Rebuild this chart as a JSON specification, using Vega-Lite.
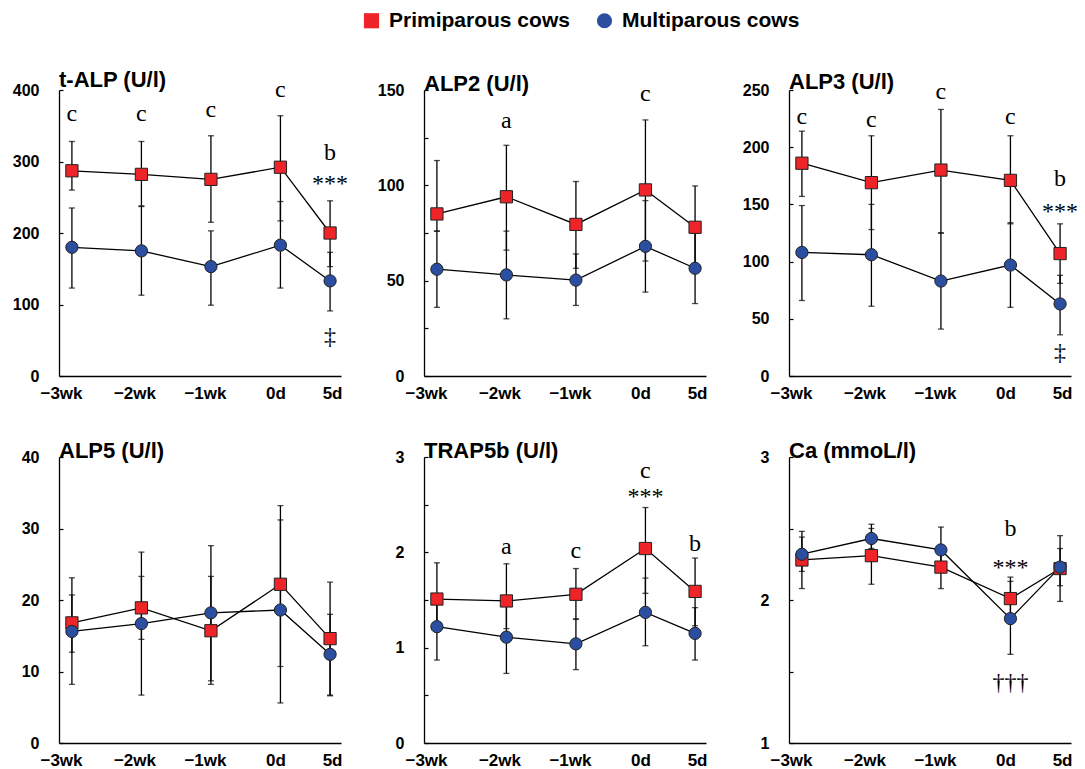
{
  "$schema": "https://vega.github.io/schema/vega-lite/v6.json",
  "background": "white",
  "padding": {"left": 12, "top": 10, "right": 5, "bottom": 5},
  "datasets": {
    "pts": [
      {"panel": "t-ALP", "group": "Primiparous cows", "day": -21, "mean": 287, "lo": 260, "hi": 328},
      {"panel": "t-ALP", "group": "Primiparous cows", "day": -14, "mean": 282, "lo": 238, "hi": 328},
      {"panel": "t-ALP", "group": "Primiparous cows", "day": -7, "mean": 275, "lo": 215, "hi": 336},
      {"panel": "t-ALP", "group": "Primiparous cows", "day": 0, "mean": 292, "lo": 217, "hi": 364},
      {"panel": "t-ALP", "group": "Primiparous cows", "day": 5, "mean": 200, "lo": 153, "hi": 245},
      {"panel": "t-ALP", "group": "Multiparous cows", "day": -21, "mean": 180, "lo": 123, "hi": 235},
      {"panel": "t-ALP", "group": "Multiparous cows", "day": -14, "mean": 175, "lo": 113, "hi": 237},
      {"panel": "t-ALP", "group": "Multiparous cows", "day": -7, "mean": 153, "lo": 99, "hi": 203},
      {"panel": "t-ALP", "group": "Multiparous cows", "day": 0, "mean": 183, "lo": 123, "hi": 244},
      {"panel": "t-ALP", "group": "Multiparous cows", "day": 5, "mean": 133, "lo": 91, "hi": 173},

      {"panel": "ALP2", "group": "Primiparous cows", "day": -21, "mean": 85, "lo": 76, "hi": 113},
      {"panel": "ALP2", "group": "Primiparous cows", "day": -14, "mean": 94, "lo": 66, "hi": 121},
      {"panel": "ALP2", "group": "Primiparous cows", "day": -7, "mean": 79.5, "lo": 56.5, "hi": 102},
      {"panel": "ALP2", "group": "Primiparous cows", "day": 0, "mean": 97.6, "lo": 60.3, "hi": 134.3},
      {"panel": "ALP2", "group": "Primiparous cows", "day": 5, "mean": 78, "lo": 58, "hi": 99.7},
      {"panel": "ALP2", "group": "Multiparous cows", "day": -21, "mean": 56, "lo": 36, "hi": 76},
      {"panel": "ALP2", "group": "Multiparous cows", "day": -14, "mean": 53, "lo": 30, "hi": 76},
      {"panel": "ALP2", "group": "Multiparous cows", "day": -7, "mean": 50.3, "lo": 37, "hi": 64},
      {"panel": "ALP2", "group": "Multiparous cows", "day": 0, "mean": 68, "lo": 44, "hi": 92},
      {"panel": "ALP2", "group": "Multiparous cows", "day": 5, "mean": 56.5, "lo": 38, "hi": 75},

      {"panel": "ALP3", "group": "Primiparous cows", "day": -21, "mean": 186, "lo": 157, "hi": 214},
      {"panel": "ALP3", "group": "Primiparous cows", "day": -14, "mean": 169, "lo": 128, "hi": 210},
      {"panel": "ALP3", "group": "Primiparous cows", "day": -7, "mean": 180, "lo": 125, "hi": 233},
      {"panel": "ALP3", "group": "Primiparous cows", "day": 0, "mean": 171, "lo": 133, "hi": 210},
      {"panel": "ALP3", "group": "Primiparous cows", "day": 5, "mean": 107, "lo": 81, "hi": 133},
      {"panel": "ALP3", "group": "Multiparous cows", "day": -21, "mean": 108, "lo": 66, "hi": 149},
      {"panel": "ALP3", "group": "Multiparous cows", "day": -14, "mean": 106, "lo": 61, "hi": 150},
      {"panel": "ALP3", "group": "Multiparous cows", "day": -7, "mean": 83, "lo": 41, "hi": 125},
      {"panel": "ALP3", "group": "Multiparous cows", "day": 0, "mean": 97, "lo": 60, "hi": 134},
      {"panel": "ALP3", "group": "Multiparous cows", "day": 5, "mean": 63, "lo": 36, "hi": 88},

      {"panel": "ALP5", "group": "Primiparous cows", "day": -21, "mean": 16.8, "lo": 12.7, "hi": 20.7},
      {"panel": "ALP5", "group": "Primiparous cows", "day": -14, "mean": 18.9, "lo": 14.5, "hi": 23.3},
      {"panel": "ALP5", "group": "Primiparous cows", "day": -7, "mean": 15.7, "lo": 8.2, "hi": 23.3},
      {"panel": "ALP5", "group": "Primiparous cows", "day": 0, "mean": 22.2, "lo": 10.7, "hi": 33.2},
      {"panel": "ALP5", "group": "Primiparous cows", "day": 5, "mean": 14.6, "lo": 6.7, "hi": 18.0},
      {"panel": "ALP5", "group": "Multiparous cows", "day": -21, "mean": 15.6, "lo": 8.2, "hi": 23.1},
      {"panel": "ALP5", "group": "Multiparous cows", "day": -14, "mean": 16.7, "lo": 6.7, "hi": 26.7},
      {"panel": "ALP5", "group": "Multiparous cows", "day": -7, "mean": 18.2, "lo": 8.7, "hi": 27.6},
      {"panel": "ALP5", "group": "Multiparous cows", "day": 0, "mean": 18.6, "lo": 5.6, "hi": 31.2},
      {"panel": "ALP5", "group": "Multiparous cows", "day": 5, "mean": 12.4, "lo": 6.6, "hi": 22.5},

      {"panel": "TRAP5b", "group": "Primiparous cows", "day": -21, "mean": 1.51, "lo": 1.25, "hi": 1.89},
      {"panel": "TRAP5b", "group": "Primiparous cows", "day": -14, "mean": 1.49, "lo": 1.2, "hi": 1.88},
      {"panel": "TRAP5b", "group": "Primiparous cows", "day": -7, "mean": 1.56, "lo": 1.3, "hi": 1.83},
      {"panel": "TRAP5b", "group": "Primiparous cows", "day": 0, "mean": 2.04, "lo": 1.57, "hi": 2.47},
      {"panel": "TRAP5b", "group": "Primiparous cows", "day": 5, "mean": 1.59, "lo": 1.23, "hi": 1.94},
      {"panel": "TRAP5b", "group": "Multiparous cows", "day": -21, "mean": 1.22, "lo": 0.87, "hi": 1.5},
      {"panel": "TRAP5b", "group": "Multiparous cows", "day": -14, "mean": 1.11, "lo": 0.73, "hi": 1.45},
      {"panel": "TRAP5b", "group": "Multiparous cows", "day": -7, "mean": 1.04, "lo": 0.77, "hi": 1.3},
      {"panel": "TRAP5b", "group": "Multiparous cows", "day": 0, "mean": 1.37, "lo": 1.02, "hi": 1.73},
      {"panel": "TRAP5b", "group": "Multiparous cows", "day": 5, "mean": 1.15, "lo": 0.87, "hi": 1.42},

      {"panel": "Ca", "group": "Primiparous cows", "day": -21, "mean": 2.28, "lo": 2.08, "hi": 2.48},
      {"panel": "Ca", "group": "Primiparous cows", "day": -14, "mean": 2.31, "lo": 2.11, "hi": 2.5},
      {"panel": "Ca", "group": "Primiparous cows", "day": -7, "mean": 2.23, "lo": 2.08, "hi": 2.37},
      {"panel": "Ca", "group": "Primiparous cows", "day": 0, "mean": 2.01, "lo": 1.88, "hi": 2.16},
      {"panel": "Ca", "group": "Primiparous cows", "day": 5, "mean": 2.22, "lo": 1.99, "hi": 2.45},
      {"panel": "Ca", "group": "Multiparous cows", "day": -21, "mean": 2.32, "lo": 2.2, "hi": 2.44},
      {"panel": "Ca", "group": "Multiparous cows", "day": -14, "mean": 2.43, "lo": 2.36, "hi": 2.53},
      {"panel": "Ca", "group": "Multiparous cows", "day": -7, "mean": 2.35, "lo": 2.22, "hi": 2.51},
      {"panel": "Ca", "group": "Multiparous cows", "day": 0, "mean": 1.87, "lo": 1.62, "hi": 2.13},
      {"panel": "Ca", "group": "Multiparous cows", "day": 5, "mean": 2.23, "lo": 2.1, "hi": 2.36}
    ],
    "ann": [
      {"panel": "t-ALP", "day": -21, "y": 367, "label": "c"},
      {"panel": "t-ALP", "day": -14, "y": 366, "label": "c"},
      {"panel": "t-ALP", "day": -7, "y": 372, "label": "c"},
      {"panel": "t-ALP", "day": 0, "y": 400, "label": "c"},
      {"panel": "t-ALP", "day": 5, "y": 312, "label": "b"},
      {"panel": "t-ALP", "day": 5, "y": 268, "label": "***"},
      {"panel": "t-ALP", "day": 5, "y": 55, "label": "‡"},
      {"panel": "ALP2", "day": -14, "y": 134, "label": "a"},
      {"panel": "ALP2", "day": 0, "y": 148, "label": "c"},
      {"panel": "ALP3", "day": -21, "y": 226, "label": "c"},
      {"panel": "ALP3", "day": -14, "y": 224, "label": "c"},
      {"panel": "ALP3", "day": -7, "y": 248, "label": "c"},
      {"panel": "ALP3", "day": 0, "y": 226, "label": "c"},
      {"panel": "ALP3", "day": 5, "y": 172, "label": "b"},
      {"panel": "ALP3", "day": 5, "y": 143.6, "label": "***"},
      {"panel": "ALP3", "day": 5, "y": 20, "label": "‡"},
      {"panel": "TRAP5b", "day": -14, "y": 2.06, "label": "a"},
      {"panel": "TRAP5b", "day": -7, "y": 2.01, "label": "c"},
      {"panel": "TRAP5b", "day": 0, "y": 2.85, "label": "c"},
      {"panel": "TRAP5b", "day": 0, "y": 2.58, "label": "***"},
      {"panel": "TRAP5b", "day": 5, "y": 2.09, "label": "b"},
      {"panel": "Ca", "day": 0, "y": 2.495, "label": "b"},
      {"panel": "Ca", "day": 0, "y": 2.225, "label": "***"},
      {"panel": "Ca", "day": 0, "y": 1.418, "label": "†††"}
    ]
  },
  "config": {
    "view": {"stroke": null},
    "axis": {
      "grid": false,
      "domainColor": "black",
      "domainWidth": 1.3,
      "tickColor": "black",
      "tickWidth": 1.2,
      "labelColor": "black",
      "labelFont": "Liberation Sans",
      "labelFontWeight": "bold",
      "labelFontSize": 16,
      "labelFlush": false,
      "labelOverlap": false
    },
    "axisX": {"labelFontSize": 17},
    "title": {
      "anchor": "start",
      "frame": "group",
      "font": "Liberation Sans",
      "fontSize": 22,
      "fontWeight": "bold",
      "color": "black",
      "offset": -14
    },
    "text": {"font": "Liberation Serif", "fontSize": 24, "color": "black", "fill": "black", "baseline": "middle", "align": "center"}
  },
  "concat": [
    {
      "width": 282, "height": 286,
      "title": "t-ALP (U/l)",
      "layer": [
        {"data": {"name": "pts"}, "transform": [{"filter": "datum.panel === 't-ALP'"}],
         "mark": {"type": "errorbar", "ticks": {"size": 6}, "color": "black", "thickness": 1.3},
         "encoding": {
           "x": {"field": "day", "type": "quantitative", "scale": {"domain": [-22.3, 6.1], "nice": false, "zero": false},
                 "axis": {"title": null, "ticks": false, "labelPadding": 9, "values": [-22.1, -14.7, -7.6, -0.5, 5.2],
                          "labelExpr": "datum.value < -20 ? '−3wk' : datum.value < -10 ? '−2wk' : datum.value < -5 ? '−1wk' : datum.value < 3 ? '0d' : '5d'"}},
           "y": {"field": "lo", "type": "quantitative", "scale": {"domain": [0, 400], "nice": false},
                 "axis": {"title": null, "tickSize": -4, "labelPadding": 24, "format": ".0f", "values": [0, 50, 100, 150, 200, 250, 300, 350, 400],
                          "labelExpr": "datum.value % 100 === 0 ? datum.label : ''"}},
           "y2": {"field": "hi"},
           "detail": {"field": "group"}
         }},
        {"data": {"name": "pts"}, "transform": [{"filter": "datum.panel === 't-ALP'"}],
         "mark": {"type": "line", "color": "black", "strokeWidth": 1.3},
         "encoding": {"x": {"field": "day", "type": "quantitative"}, "y": {"field": "mean", "type": "quantitative"}, "detail": {"field": "group"}}},
        {"data": {"name": "pts"}, "transform": [{"filter": "datum.panel === 't-ALP'"}],
         "mark": {"type": "point", "filled": true, "opacity": 1, "stroke": "#222222", "strokeWidth": 1, "size": 150},
         "encoding": {
           "x": {"field": "day", "type": "quantitative"}, "y": {"field": "mean", "type": "quantitative"},
           "color": {"field": "group", "type": "nominal", "scale": {"domain": ["Primiparous cows", "Multiparous cows"], "range": ["#EE2428", "#2B4EA0"]},
                     "legend": {"title": null, "orient": "none", "legendX": 302, "legendY": -80, "direction": "horizontal", "labelFont": "Liberation Sans", "labelFontSize": 21, "labelFontWeight": "bold", "labelColor": "black", "symbolSize": 230, "symbolStrokeColor": "#222222", "symbolStrokeWidth": 1, "symbolOpacity": 1, "columnPadding": 24, "labelOffset": 7, "labelLimit": 400}},
           "shape": {"field": "group", "type": "nominal", "scale": {"domain": ["Primiparous cows", "Multiparous cows"], "range": ["square", "circle"]},
                     "legend": {"title": null, "orient": "none", "legendX": 302, "legendY": -80, "direction": "horizontal", "labelFont": "Liberation Sans", "labelFontSize": 21, "labelFontWeight": "bold", "labelColor": "black", "symbolSize": 230, "symbolStrokeColor": "#222222", "symbolStrokeWidth": 1, "symbolOpacity": 1, "columnPadding": 24, "labelOffset": 7, "labelLimit": 400}}
         }},
        {"data": {"name": "ann"}, "transform": [{"filter": "datum.panel === 't-ALP'"}],
         "mark": {"type": "text", "color": "black"},
         "encoding": {"x": {"field": "day", "type": "quantitative"}, "y": {"field": "y", "type": "quantitative"}, "text": {"field": "label"}}}
      ]
    },
    {
      "width": 282, "height": 286,
      "title": "ALP2 (U/l)",
      "layer": [
        {"data": {"name": "pts"}, "transform": [{"filter": "datum.panel === 'ALP2'"}],
         "mark": {"type": "errorbar", "ticks": {"size": 6}, "color": "black", "thickness": 1.3},
         "encoding": {
           "x": {"field": "day", "type": "quantitative", "scale": {"domain": [-22.3, 6.1], "nice": false, "zero": false},
                 "axis": {"title": null, "ticks": false, "labelPadding": 9, "values": [-22.1, -14.7, -7.6, -0.5, 5.2],
                          "labelExpr": "datum.value < -20 ? '−3wk' : datum.value < -10 ? '−2wk' : datum.value < -5 ? '−1wk' : datum.value < 3 ? '0d' : '5d'"}},
           "y": {"field": "lo", "type": "quantitative", "scale": {"domain": [0, 150], "nice": false},
                 "axis": {"title": null, "tickSize": -4, "labelPadding": 24, "format": ".0f", "values": [0, 25, 50, 75, 100, 125, 150],
                          "labelExpr": "datum.value % 50 === 0 ? datum.label : ''"}},
           "y2": {"field": "hi"},
           "detail": {"field": "group"}
         }},
        {"data": {"name": "pts"}, "transform": [{"filter": "datum.panel === 'ALP2'"}],
         "mark": {"type": "line", "color": "black", "strokeWidth": 1.3},
         "encoding": {"x": {"field": "day", "type": "quantitative"}, "y": {"field": "mean", "type": "quantitative"}, "detail": {"field": "group"}}},
        {"data": {"name": "pts"}, "transform": [{"filter": "datum.panel === 'ALP2'"}],
         "mark": {"type": "point", "filled": true, "opacity": 1, "stroke": "#222222", "strokeWidth": 1, "size": 150},
         "encoding": {
           "x": {"field": "day", "type": "quantitative"}, "y": {"field": "mean", "type": "quantitative"},
           "color": {"field": "group", "type": "nominal", "scale": {"domain": ["Primiparous cows", "Multiparous cows"], "range": ["#EE2428", "#2B4EA0"]},
                     "legend": {"title": null, "orient": "none", "legendX": 302, "legendY": -80, "direction": "horizontal", "labelFont": "Liberation Sans", "labelFontSize": 21, "labelFontWeight": "bold", "labelColor": "black", "symbolSize": 230, "symbolStrokeColor": "#222222", "symbolStrokeWidth": 1, "symbolOpacity": 1, "columnPadding": 24, "labelOffset": 7, "labelLimit": 400}},
           "shape": {"field": "group", "type": "nominal", "scale": {"domain": ["Primiparous cows", "Multiparous cows"], "range": ["square", "circle"]},
                     "legend": {"title": null, "orient": "none", "legendX": 302, "legendY": -80, "direction": "horizontal", "labelFont": "Liberation Sans", "labelFontSize": 21, "labelFontWeight": "bold", "labelColor": "black", "symbolSize": 230, "symbolStrokeColor": "#222222", "symbolStrokeWidth": 1, "symbolOpacity": 1, "columnPadding": 24, "labelOffset": 7, "labelLimit": 400}}
         }},
        {"data": {"name": "ann"}, "transform": [{"filter": "datum.panel === 'ALP2'"}],
         "mark": {"type": "text", "color": "black"},
         "encoding": {"x": {"field": "day", "type": "quantitative"}, "y": {"field": "y", "type": "quantitative"}, "text": {"field": "label"}}}
      ]
    },
    {
      "width": 282, "height": 286,
      "title": "ALP3 (U/l)",
      "layer": [
        {"data": {"name": "pts"}, "transform": [{"filter": "datum.panel === 'ALP3'"}],
         "mark": {"type": "errorbar", "ticks": {"size": 6}, "color": "black", "thickness": 1.3},
         "encoding": {
           "x": {"field": "day", "type": "quantitative", "scale": {"domain": [-22.3, 6.1], "nice": false, "zero": false},
                 "axis": {"title": null, "ticks": false, "labelPadding": 9, "values": [-22.1, -14.7, -7.6, -0.5, 5.2],
                          "labelExpr": "datum.value < -20 ? '−3wk' : datum.value < -10 ? '−2wk' : datum.value < -5 ? '−1wk' : datum.value < 3 ? '0d' : '5d'"}},
           "y": {"field": "lo", "type": "quantitative", "scale": {"domain": [0, 250], "nice": false},
                 "axis": {"title": null, "tickSize": -4, "labelPadding": 24, "format": ".0f", "values": [0, 25, 50, 75, 100, 125, 150, 175, 200, 225, 250],
                          "labelExpr": "datum.value % 50 === 0 ? datum.label : ''"}},
           "y2": {"field": "hi"},
           "detail": {"field": "group"}
         }},
        {"data": {"name": "pts"}, "transform": [{"filter": "datum.panel === 'ALP3'"}],
         "mark": {"type": "line", "color": "black", "strokeWidth": 1.3},
         "encoding": {"x": {"field": "day", "type": "quantitative"}, "y": {"field": "mean", "type": "quantitative"}, "detail": {"field": "group"}}},
        {"data": {"name": "pts"}, "transform": [{"filter": "datum.panel === 'ALP3'"}],
         "mark": {"type": "point", "filled": true, "opacity": 1, "stroke": "#222222", "strokeWidth": 1, "size": 150},
         "encoding": {
           "x": {"field": "day", "type": "quantitative"}, "y": {"field": "mean", "type": "quantitative"},
           "color": {"field": "group", "type": "nominal", "scale": {"domain": ["Primiparous cows", "Multiparous cows"], "range": ["#EE2428", "#2B4EA0"]},
                     "legend": {"title": null, "orient": "none", "legendX": 302, "legendY": -80, "direction": "horizontal", "labelFont": "Liberation Sans", "labelFontSize": 21, "labelFontWeight": "bold", "labelColor": "black", "symbolSize": 230, "symbolStrokeColor": "#222222", "symbolStrokeWidth": 1, "symbolOpacity": 1, "columnPadding": 24, "labelOffset": 7, "labelLimit": 400}},
           "shape": {"field": "group", "type": "nominal", "scale": {"domain": ["Primiparous cows", "Multiparous cows"], "range": ["square", "circle"]},
                     "legend": {"title": null, "orient": "none", "legendX": 302, "legendY": -80, "direction": "horizontal", "labelFont": "Liberation Sans", "labelFontSize": 21, "labelFontWeight": "bold", "labelColor": "black", "symbolSize": 230, "symbolStrokeColor": "#222222", "symbolStrokeWidth": 1, "symbolOpacity": 1, "columnPadding": 24, "labelOffset": 7, "labelLimit": 400}}
         }},
        {"data": {"name": "ann"}, "transform": [{"filter": "datum.panel === 'ALP3'"}],
         "mark": {"type": "text", "color": "black"},
         "encoding": {"x": {"field": "day", "type": "quantitative"}, "y": {"field": "y", "type": "quantitative"}, "text": {"field": "label"}}}
      ]
    },
    {
      "width": 282, "height": 286,
      "title": "ALP5 (U/l)",
      "layer": [
        {"data": {"name": "pts"}, "transform": [{"filter": "datum.panel === 'ALP5'"}],
         "mark": {"type": "errorbar", "ticks": {"size": 6}, "color": "black", "thickness": 1.3},
         "encoding": {
           "x": {"field": "day", "type": "quantitative", "scale": {"domain": [-22.3, 6.1], "nice": false, "zero": false},
                 "axis": {"title": null, "ticks": false, "labelPadding": 9, "values": [-22.1, -14.7, -7.6, -0.5, 5.2],
                          "labelExpr": "datum.value < -20 ? '−3wk' : datum.value < -10 ? '−2wk' : datum.value < -5 ? '−1wk' : datum.value < 3 ? '0d' : '5d'"}},
           "y": {"field": "lo", "type": "quantitative", "scale": {"domain": [0, 40], "nice": false},
                 "axis": {"title": null, "tickSize": -4, "labelPadding": 24, "format": ".0f", "values": [0, 5, 10, 15, 20, 25, 30, 35, 40],
                          "labelExpr": "datum.value % 10 === 0 ? datum.label : ''"}},
           "y2": {"field": "hi"},
           "detail": {"field": "group"}
         }},
        {"data": {"name": "pts"}, "transform": [{"filter": "datum.panel === 'ALP5'"}],
         "mark": {"type": "line", "color": "black", "strokeWidth": 1.3},
         "encoding": {"x": {"field": "day", "type": "quantitative"}, "y": {"field": "mean", "type": "quantitative"}, "detail": {"field": "group"}}},
        {"data": {"name": "pts"}, "transform": [{"filter": "datum.panel === 'ALP5'"}],
         "mark": {"type": "point", "filled": true, "opacity": 1, "stroke": "#222222", "strokeWidth": 1, "size": 150},
         "encoding": {
           "x": {"field": "day", "type": "quantitative"}, "y": {"field": "mean", "type": "quantitative"},
           "color": {"field": "group", "type": "nominal", "scale": {"domain": ["Primiparous cows", "Multiparous cows"], "range": ["#EE2428", "#2B4EA0"]},
                     "legend": {"title": null, "orient": "none", "legendX": 302, "legendY": -80, "direction": "horizontal", "labelFont": "Liberation Sans", "labelFontSize": 21, "labelFontWeight": "bold", "labelColor": "black", "symbolSize": 230, "symbolStrokeColor": "#222222", "symbolStrokeWidth": 1, "symbolOpacity": 1, "columnPadding": 24, "labelOffset": 7, "labelLimit": 400}},
           "shape": {"field": "group", "type": "nominal", "scale": {"domain": ["Primiparous cows", "Multiparous cows"], "range": ["square", "circle"]},
                     "legend": {"title": null, "orient": "none", "legendX": 302, "legendY": -80, "direction": "horizontal", "labelFont": "Liberation Sans", "labelFontSize": 21, "labelFontWeight": "bold", "labelColor": "black", "symbolSize": 230, "symbolStrokeColor": "#222222", "symbolStrokeWidth": 1, "symbolOpacity": 1, "columnPadding": 24, "labelOffset": 7, "labelLimit": 400}}
         }}
      ]
    },
    {
      "width": 282, "height": 286,
      "title": "TRAP5b (U/l)",
      "layer": [
        {"data": {"name": "pts"}, "transform": [{"filter": "datum.panel === 'TRAP5b'"}],
         "mark": {"type": "errorbar", "ticks": {"size": 6}, "color": "black", "thickness": 1.3},
         "encoding": {
           "x": {"field": "day", "type": "quantitative", "scale": {"domain": [-22.3, 6.1], "nice": false, "zero": false},
                 "axis": {"title": null, "ticks": false, "labelPadding": 9, "values": [-22.1, -14.7, -7.6, -0.5, 5.2],
                          "labelExpr": "datum.value < -20 ? '−3wk' : datum.value < -10 ? '−2wk' : datum.value < -5 ? '−1wk' : datum.value < 3 ? '0d' : '5d'"}},
           "y": {"field": "lo", "type": "quantitative", "scale": {"domain": [0, 3], "nice": false},
                 "axis": {"title": null, "tickSize": -4, "labelPadding": 24, "format": ".0f", "values": [0, 0.5, 1, 1.5, 2, 2.5, 3],
                          "labelExpr": "datum.value % 1 === 0 ? datum.label : ''"}},
           "y2": {"field": "hi"},
           "detail": {"field": "group"}
         }},
        {"data": {"name": "pts"}, "transform": [{"filter": "datum.panel === 'TRAP5b'"}],
         "mark": {"type": "line", "color": "black", "strokeWidth": 1.3},
         "encoding": {"x": {"field": "day", "type": "quantitative"}, "y": {"field": "mean", "type": "quantitative"}, "detail": {"field": "group"}}},
        {"data": {"name": "pts"}, "transform": [{"filter": "datum.panel === 'TRAP5b'"}],
         "mark": {"type": "point", "filled": true, "opacity": 1, "stroke": "#222222", "strokeWidth": 1, "size": 150},
         "encoding": {
           "x": {"field": "day", "type": "quantitative"}, "y": {"field": "mean", "type": "quantitative"},
           "color": {"field": "group", "type": "nominal", "scale": {"domain": ["Primiparous cows", "Multiparous cows"], "range": ["#EE2428", "#2B4EA0"]},
                     "legend": {"title": null, "orient": "none", "legendX": 302, "legendY": -80, "direction": "horizontal", "labelFont": "Liberation Sans", "labelFontSize": 21, "labelFontWeight": "bold", "labelColor": "black", "symbolSize": 230, "symbolStrokeColor": "#222222", "symbolStrokeWidth": 1, "symbolOpacity": 1, "columnPadding": 24, "labelOffset": 7, "labelLimit": 400}},
           "shape": {"field": "group", "type": "nominal", "scale": {"domain": ["Primiparous cows", "Multiparous cows"], "range": ["square", "circle"]},
                     "legend": {"title": null, "orient": "none", "legendX": 302, "legendY": -80, "direction": "horizontal", "labelFont": "Liberation Sans", "labelFontSize": 21, "labelFontWeight": "bold", "labelColor": "black", "symbolSize": 230, "symbolStrokeColor": "#222222", "symbolStrokeWidth": 1, "symbolOpacity": 1, "columnPadding": 24, "labelOffset": 7, "labelLimit": 400}}
         }},
        {"data": {"name": "ann"}, "transform": [{"filter": "datum.panel === 'TRAP5b'"}],
         "mark": {"type": "text", "color": "black"},
         "encoding": {"x": {"field": "day", "type": "quantitative"}, "y": {"field": "y", "type": "quantitative"}, "text": {"field": "label"}}}
      ]
    },
    {
      "width": 282, "height": 286,
      "title": "Ca (mmoL/l)",
      "layer": [
        {"data": {"name": "pts"}, "transform": [{"filter": "datum.panel === 'Ca'"}],
         "mark": {"type": "errorbar", "ticks": {"size": 6}, "color": "black", "thickness": 1.3},
         "encoding": {
           "x": {"field": "day", "type": "quantitative", "scale": {"domain": [-22.3, 6.1], "nice": false, "zero": false},
                 "axis": {"title": null, "ticks": false, "labelPadding": 9, "values": [-22.1, -14.7, -7.6, -0.5, 5.2],
                          "labelExpr": "datum.value < -20 ? '−3wk' : datum.value < -10 ? '−2wk' : datum.value < -5 ? '−1wk' : datum.value < 3 ? '0d' : '5d'"}},
           "y": {"field": "lo", "type": "quantitative", "scale": {"domain": [1, 3], "nice": false, "zero": false},
                 "axis": {"title": null, "tickSize": -4, "labelPadding": 24, "format": ".0f", "values": [1, 1.5, 2, 2.5, 3],
                          "labelExpr": "datum.value % 1 === 0 ? datum.label : ''"}},
           "y2": {"field": "hi"},
           "detail": {"field": "group"}
         }},
        {"data": {"name": "pts"}, "transform": [{"filter": "datum.panel === 'Ca'"}],
         "mark": {"type": "line", "color": "black", "strokeWidth": 1.3},
         "encoding": {"x": {"field": "day", "type": "quantitative"}, "y": {"field": "mean", "type": "quantitative"}, "detail": {"field": "group"}}},
        {"data": {"name": "pts"}, "transform": [{"filter": "datum.panel === 'Ca'"}],
         "mark": {"type": "point", "filled": true, "opacity": 1, "stroke": "#222222", "strokeWidth": 1, "size": 150},
         "encoding": {
           "x": {"field": "day", "type": "quantitative"}, "y": {"field": "mean", "type": "quantitative"},
           "color": {"field": "group", "type": "nominal", "scale": {"domain": ["Primiparous cows", "Multiparous cows"], "range": ["#EE2428", "#2B4EA0"]},
                     "legend": {"title": null, "orient": "none", "legendX": 302, "legendY": -80, "direction": "horizontal", "labelFont": "Liberation Sans", "labelFontSize": 21, "labelFontWeight": "bold", "labelColor": "black", "symbolSize": 230, "symbolStrokeColor": "#222222", "symbolStrokeWidth": 1, "symbolOpacity": 1, "columnPadding": 24, "labelOffset": 7, "labelLimit": 400}},
           "shape": {"field": "group", "type": "nominal", "scale": {"domain": ["Primiparous cows", "Multiparous cows"], "range": ["square", "circle"]},
                     "legend": {"title": null, "orient": "none", "legendX": 302, "legendY": -80, "direction": "horizontal", "labelFont": "Liberation Sans", "labelFontSize": 21, "labelFontWeight": "bold", "labelColor": "black", "symbolSize": 230, "symbolStrokeColor": "#222222", "symbolStrokeWidth": 1, "symbolOpacity": 1, "columnPadding": 24, "labelOffset": 7, "labelLimit": 400}}
         }},
        {"data": {"name": "ann"}, "transform": [{"filter": "datum.panel === 'Ca'"}],
         "mark": {"type": "text", "color": "black"},
         "encoding": {"x": {"field": "day", "type": "quantitative"}, "y": {"field": "y", "type": "quantitative"}, "text": {"field": "label"}}}
      ]
    }
  ],
  "columns": 3,
  "spacing": {"row": 81, "column": 83},
  "bounds": "flush"
}
